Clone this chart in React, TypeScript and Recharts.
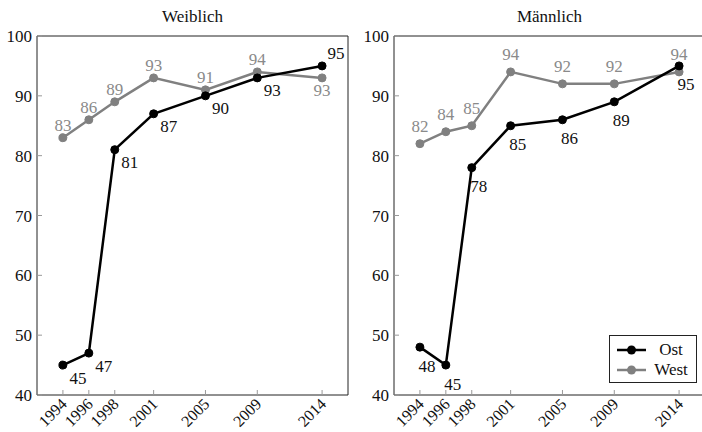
import { LineChart, Line, XAxis, YAxis, Legend } from "recharts";

const years = [1994, 1996, 1998, 2001, 2005, 2009, 2014];
const yTicks = [40, 50, 60, 70, 80, 90, 100];

const weiblichOst = [45, 47, 81, 87, 90, 93, 95];
const weiblichWest = [83, 86, 89, 93, 91, 94, 93];
const maennlichOst = [48, 45, 78, 85, 86, 89, 95];
const maennlichWest = [82, 84, 85, 94, 92, 92, 94];

const FONT = '"Liberation Serif", "Times New Roman", serif';
const FS = 17;
const BLACK = "#000";
const GRAY = "#808080";
const GRAY_TEXT = "#8a8a8a";

type Place = { dx: number; dy: number };

// label renderer, place() picks where a point's value goes
function makeLabel(color: string, place: (i: number) => Place) {
  return (props: any) => {
    const { x, y, value, index } = props;
    const p = place(index);
    return (
      <text
        x={x + p.dx}
        y={y + p.dy}
        fill={color}
        fontSize={FS}
        fontFamily={FONT}
        textAnchor="middle"
        dominantBaseline="central"
      >
        {value}
      </text>
    );
  };
}

const XTick = (props: any) => {
  const { x, y, payload } = props;
  const tx = x + 5;
  return (
    <text
      x={tx}
      y={y}
      transform={`rotate(-45 ${tx} ${y})`}
      textAnchor="end"
      fontSize={16}
      fontFamily={FONT}
      fill="#111"
    >
      {payload.value}
    </text>
  );
};

const legendItems = [
  { name: "Ost", color: BLACK },
  { name: "West", color: GRAY },
];

const LegendBox = () => (
  <div
    style={{
      border: "1px solid #222",
      background: "#fff",
      width: 86,
      padding: "4px 0 2px",
      fontFamily: FONT,
      fontSize: FS,
      color: "#111",
    }}
  >
    {legendItems.map((s) => (
      <div key={s.name} style={{ display: "flex", alignItems: "center", height: 20 }}>
        <svg width={29} height={10} style={{ marginLeft: 7 }}>
          <line x1={0} y1={5} x2={29} y2={5} stroke={s.color} strokeWidth={2.5} />
          <circle cx={14.5} cy={5} r={4.5} fill={s.color} />
        </svg>
        <span style={{ flex: 1, textAlign: "center" }}>{s.name}</span>
      </div>
    ))}
  </div>
);

type PanelProps = {
  title: string;
  left: number;
  ost: number[];
  west: number[];
  ostPlace: (i: number) => Place;
  westPlace: (i: number) => Place;
  legend?: boolean;
};

function Panel({ title, left, ost, west, ostPlace, westPlace, legend }: PanelProps) {
  const data = years.map((year, i) => ({ year, ost: ost[i], west: west[i] }));
  return (
    <div style={{ position: "absolute", left, top: 0, width: 360, height: 432 }}>
      <div
        style={{
          position: "absolute",
          left: 37,
          width: 311,
          top: 7,
          textAlign: "center",
          fontFamily: FONT,
          fontSize: FS,
          color: "#111",
        }}
      >
        {title}
      </div>
      <LineChart
        width={360}
        height={432}
        data={data}
        margin={{ top: 35, right: 11, bottom: 0, left: 0 }}
      >
        <XAxis
          dataKey="year"
          type="number"
          domain={[1992, 2016]}
          ticks={years}
          interval={0}
          height={37}
          tickSize={-5}
          tickMargin={15}
          tick={<XTick />}
          axisLine={{ stroke: "#222" }}
          tickLine={{ stroke: "#999" }}
        />
        <XAxis
          xAxisId="t"
          orientation="top"
          dataKey="year"
          type="number"
          domain={[1992, 2016]}
          ticks={years}
          interval={0}
          height={1}
          tickSize={-5}
          tick={false}
          axisLine={{ stroke: "#222" }}
          tickLine={{ stroke: "#999" }}
        />
        <YAxis
          domain={[40, 100]}
          ticks={yTicks}
          interval={0}
          width={37}
          tickSize={-5}
          tickMargin={10}
          tick={{ fontSize: FS, fontFamily: FONT, fill: "#111" }}
          axisLine={{ stroke: "#222" }}
          tickLine={{ stroke: "#999" }}
        />
        <YAxis
          yAxisId="r"
          orientation="right"
          domain={[40, 100]}
          ticks={yTicks}
          interval={0}
          width={1}
          tickSize={-5}
          tick={false}
          axisLine={{ stroke: "#222" }}
          tickLine={{ stroke: "#999" }}
        />
        <Line
          dataKey="west"
          name="West"
          stroke={GRAY}
          strokeWidth={2.5}
          dot={{ r: 4, fill: GRAY, stroke: GRAY, strokeWidth: 1 }}
          label={makeLabel(GRAY_TEXT, westPlace)}
          isAnimationActive={false}
        />
        <Line
          dataKey="ost"
          name="Ost"
          stroke={BLACK}
          strokeWidth={2.5}
          dot={{ r: 4, fill: BLACK, stroke: BLACK, strokeWidth: 1 }}
          label={makeLabel("#111", ostPlace)}
          isAnimationActive={false}
        />
        {legend && (
          <Legend
            layout="horizontal"
            align="center"
            verticalAlign="middle"
            content={<LegendBox />}
            wrapperStyle={{ left: 252, top: 335, width: 88, height: 48 }}
          />
        )}
      </LineChart>
    </div>
  );
}

const last = years.length - 1;

export default function App() {
  return (
    <div
      style={{
        position: "fixed",
        left: 0,
        top: 0,
        width: 702,
        height: 432,
        overflow: "hidden",
        background: "#fff",
      }}
    >
      <Panel
        title="Weiblich"
        left={0}
        ost={weiblichOst}
        west={weiblichWest}
        ostPlace={(i) => (i === last ? { dx: 14, dy: -12 } : { dx: 15, dy: 13 })}
        westPlace={(i) => (i === last ? { dx: 0, dy: 13 } : { dx: 0, dy: -12 })}
      />
      <Panel
        title="Männlich"
        left={357}
        ost={maennlichOst}
        west={maennlichWest}
        ostPlace={() => ({ dx: 7, dy: 19 })}
        westPlace={() => ({ dx: 0, dy: -17 })}
        legend
      />
    </div>
  );
}
